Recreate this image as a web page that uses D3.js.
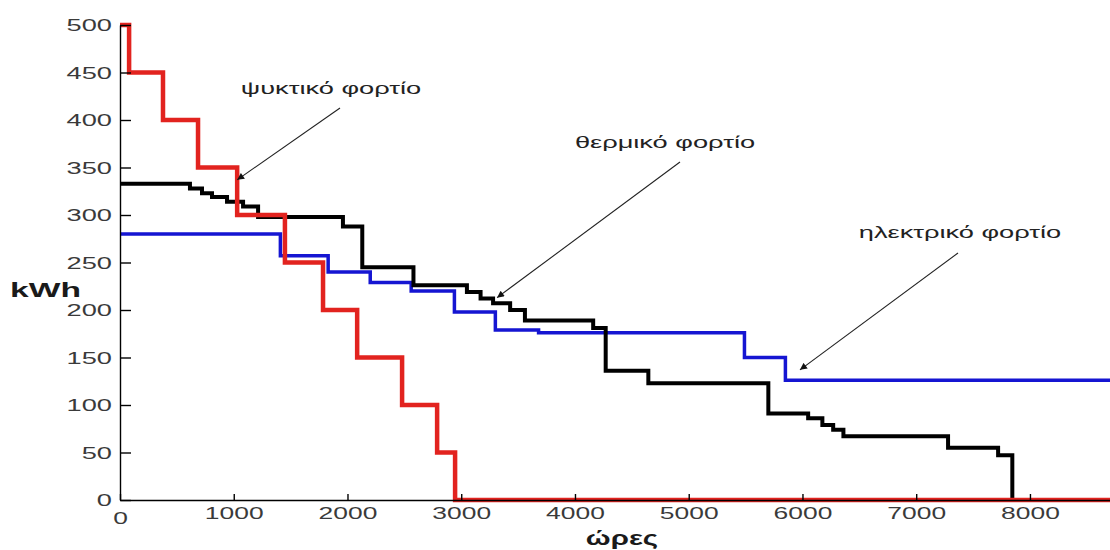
<!DOCTYPE html>
<html>
<head>
<meta charset="utf-8">
<script src="https://cdn.jsdelivr.net/npm/d3@7"></script>
<style>
  html, body { margin: 0; padding: 0; background: #fff; }
  svg { display: block; }
  text { font-family: "Liberation Sans", Arial, sans-serif; }
</style>
</head>
<body>
<svg id="chart" width="1110" height="550"></svg>
<script>
// ---------- data ----------
// step breakpoints: value[i] holds from hours[i] to hours[i+1]
const coolingHours = [0, 80, 378, 686, 1030, 1450, 1785, 2085, 2480, 2788, 2946];
const coolingLoad  = [500, 450, 400, 350, 300, 250, 200, 150, 100, 50, 0];

const electricHours = [0, 1410, 1830, 2200, 2560, 2940, 3300, 3680, 5490, 5850];
const electricLoad  = [280, 257, 240, 229, 220, 198, 179, 176, 150, 126];

const thermalHours = [0, 615, 721, 809, 941, 1082, 1214, 1960, 2130, 2580, 3050, 3170, 3280, 3430, 3560, 4160, 4270, 4645, 5700, 6050, 6175, 6270, 6360, 7280, 7720, 7845];
const thermalLoad  = [333, 328, 323, 319, 314, 309, 298, 288, 245, 226, 219, 212, 207, 200, 189, 181, 136, 123, 91, 86, 79, 74, 67, 55, 47, 0];

const hoursInYear = 8760;

const yTicks = [0, 50, 100, 150, 200, 250, 300, 350, 400, 450, 500];
const yTickLabels = ["0", "50", "100", "150", "200", "250", "300", "350", "400", "450", "500"];
const xTicks = [0, 1000, 2000, 3000, 4000, 5000, 6000, 7000, 8000];
const xTickLabels = ["0", "1000", "2000", "3000", "4000", "5000", "6000", "7000", "8000"];

const yTitle = "kWh";
const xTitle = "ώρες";

const seriesNames = ["ψυκτικό φορτίο", "θερμικό φορτίο", "ηλεκτρικό φορτίο"];
// point each arrow tip at (hours, kWh)
const arrowTipHours = [1030, 3315, 5978];
const arrowTipLoad  = [337, 213, 137];

// ---------- layout ----------
const svg = d3.select("#chart");

const x = d3.scaleLinear().domain([0, hoursInYear]).range([120, 1116.4]);
const y = d3.scaleLinear().domain([0, 500]).range([500, 25]);

function stepPoints(hours, vals) {
  const pts = hours.map((h, i) => [h, vals[i]]);
  pts.push([hoursInYear, vals[vals.length - 1]]);
  return pts;
}

const line = d3.line()
  .x(d => x(d[0]))
  .y(d => y(d[1]))
  .curve(d3.curveStepAfter);

const plot = svg.append("g");

plot.append("path")
  .datum(stepPoints(electricHours, electricLoad))
  .attr("d", line)
  .attr("fill", "none")
  .attr("stroke", "#1515d2")
  .attr("stroke-width", 3.5)
  .attr("stroke-linejoin", "miter");

plot.append("path")
  .datum(stepPoints(thermalHours, thermalLoad))
  .attr("d", line)
  .attr("fill", "none")
  .attr("stroke", "#000")
  .attr("stroke-width", 4)
  .attr("stroke-linejoin", "miter");

plot.append("path")
  .datum(stepPoints(coolingHours, coolingLoad))
  .attr("d", line)
  .attr("fill", "none")
  .attr("stroke", "#e2231f")
  .attr("stroke-width", 4.5)
  .attr("stroke-linejoin", "miter");

// ---------- axes ----------
function stretchText(sel, f) {
  sel.each(function () {
    const w = this.getComputedTextLength();
    d3.select(this).attr("textLength", w * f).attr("lengthAdjust", "spacingAndGlyphs");
  });
}

const yAxis = svg.append("g")
  .attr("transform", "translate(120,0)")
  .call(d3.axisLeft(y)
    .tickValues(yTicks)
    .tickFormat((d, i) => yTickLabels[i])
    .tickSizeInner(-11)
    .tickSizeOuter(0)
    .tickPadding(8));

const xAxis = svg.append("g")
  .attr("transform", "translate(0,500)")
  .call(d3.axisBottom(x)
    .tickValues(xTicks)
    .tickFormat((d, i) => xTickLabels[i])
    .tickSizeInner(-6)
    .tickSizeOuter(0)
    .tickPadding(7));

[yAxis, xAxis].forEach(ax => {
  ax.select(".domain").attr("stroke", "#000").attr("stroke-width", 1.4);
  ax.selectAll(".tick line").attr("stroke", "#000").attr("stroke-width", 1.4);
  ax.selectAll(".tick text")
    .attr("fill", "#3a3a3a")
    .style("font-size", "16.5px")
    .style("font-family", "'Liberation Sans', Arial, sans-serif");
});
yAxis.selectAll(".tick text").attr("dy", "0.36em");
stretchText(yAxis.selectAll(".tick text"), 1.65);
stretchText(xAxis.selectAll(".tick text"), 1.6);
// the zero of the x axis sits a little lower, like the reference
xAxis.selectAll(".tick text").filter(d => d === 0).attr("dy", "1.0em");

// axis titles
const yT = svg.append("text")
  .attr("x", 10).attr("y", 297)
  .attr("fill", "#1a1a1a")
  .style("font-size", "21px").style("font-weight", "bold")
  .text(yTitle);
stretchText(yT, 1.6);

const xT = svg.append("text")
  .attr("x", 622).attr("y", 545)
  .attr("text-anchor", "middle")
  .attr("fill", "#1a1a1a")
  .style("font-size", "21px").style("font-weight", "bold")
  .text(xTitle);
stretchText(xT, 1.4);

// ---------- annotations ----------
svg.append("defs").append("marker")
  .attr("id", "ah")
  .attr("viewBox", "0 0 10 10")
  .attr("refX", 10).attr("refY", 5)
  .attr("markerWidth", 9).attr("markerHeight", 7)
  .attr("markerUnits", "userSpaceOnUse")
  .attr("orient", "auto")
  .append("path")
  .attr("d", "M0,0 L10,5 L0,10 Z")
  .attr("fill", "#111");

const labelPos = [[331, 94], [665, 148], [960, 238]];
const arrowStart = [[340, 108], [680, 162], [958, 253]];

seriesNames.forEach((name, i) => {
  const t = svg.append("text")
    .attr("x", labelPos[i][0]).attr("y", labelPos[i][1])
    .attr("text-anchor", "middle")
    .attr("fill", "#222")
    .style("font-size", "16px")
    .text(name);
  stretchText(t, 1.7);

  svg.append("line")
    .attr("x1", arrowStart[i][0]).attr("y1", arrowStart[i][1])
    .attr("x2", x(arrowTipHours[i])).attr("y2", y(arrowTipLoad[i]))
    .attr("stroke", "#222")
    .attr("stroke-width", 1.1)
    .attr("marker-end", "url(#ah)");
});
</script>
</body>
</html>
